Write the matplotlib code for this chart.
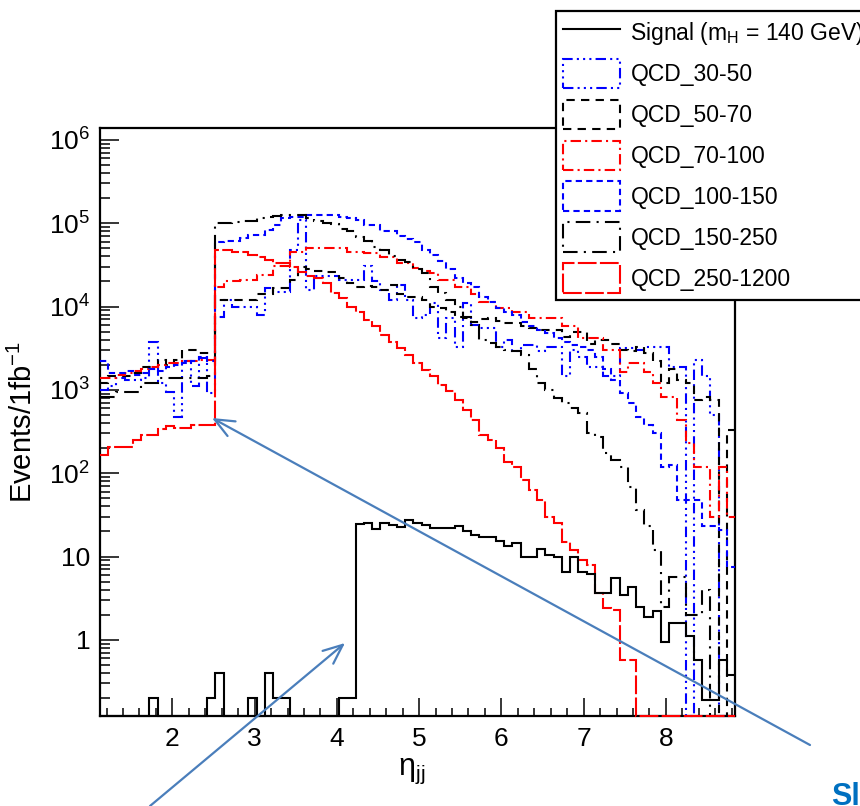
import numpy as np
import matplotlib
matplotlib.use('Agg')
import matplotlib.pyplot as plt
from matplotlib.patches import Patch
from matplotlib.lines import Line2D
from matplotlib.ticker import MultipleLocator, LogLocator, FixedLocator, FixedFormatter, NullFormatter

plt.rcParams['font.family'] = ['Liberation Sans', 'DejaVu Sans']
plt.rcParams['mathtext.fontset'] = 'custom'
plt.rcParams['mathtext.rm'] = 'Liberation Sans'
plt.rcParams['mathtext.it'] = 'Liberation Sans:italic'
plt.rcParams['mathtext.bf'] = 'Liberation Sans:bold'

# eta_jj binning (77 bins)
eta_min, eta_max, n_bins = 1.12, 8.84, 77

# events / 1 fb^-1 per bin (0 = empty bin)
signal = [0, 0, 0, 0, 0, 0, 0.2, 0, 0, 0,
          0, 0, 0, 0.2, 0.4, 0, 0, 0, 0.2, 0,
          0.4, 0.2, 0.2, 0, 0, 0, 0, 0, 0, 0.2,
          0.2, 24.6, 25.6, 21.3, 25.3, 23.8, 22.5, 27.5, 25.6, 24,
          22, 22, 22, 23, 20, 18.2, 17.4, 17.4, 15.5, 13.2,
          14.5, 10, 10, 12.3, 10.5, 10, 6.6, 10, 6.6, 6.2,
          3.7, 3.7, 5.5, 3.5, 4.3, 2.5, 1.9, 2.2, 0.95, 1.6,
          1.6, 1.1, 0.57, 0.19, 0.19, 0.57, 0.38]

qcd_30_50 = [1.0e3, 1.1e3, 1.4e3, 1.3e3, 1.3e3, 1.4e3, 3.8e3, 1.2e3, 950, 470,
             2.2e3, 1.1e3, 2.4e3, 920, 7.5e3, 1.2e4, 1.0e4, 1.0e4, 1.0e4, 8e3,
             1.65e4, 1.5e4, 1.5e4, 4.8e4, 1.1e5, 1.6e4, 2.3e4, 2.3e4, 2.3e4, 2.1e4,
             2.1e4, 2.1e4, 3.1e4, 2.0e4, 1.6e4, 1.2e4, 1.8e4, 1.2e4, 7.3e3, 8e3,
             1.1e4, 4.2e3, 7.3e3, 3.3e3, 1.1e4, 6e3, 5.5e3, 5.5e3, 3.3e3, 4e3,
             2.9e3, 3.5e3, 3.5e3, 2.9e3, 3.3e3, 3.3e3, 1.45e3, 3e3, 2.5e3, 1.9e3,
             1.9e3, 1.45e3, 1.45e3, 3.2e3, 3.2e3, 3.0e3, 3.3e3, 3.3e3, 3.3e3, 1.9e3,
             1.9e3, 0, 2.3e3, 1.45e3, 500, 0, 0]

qcd_50_70 = [1.2e3, 1.45e3, 1.45e3, 1.45e3, 1.6e3, 1.9e3, 1.9e3, 2.3e3, 2.0e3, 2.3e3,
             3.0e3, 3.0e3, 2.8e3, 2.8e3, 1.2e4, 1.2e4, 1.2e4, 1.2e4, 1.2e4, 1.4e4,
             1.4e4, 1.65e4, 1.65e4, 2.1e4, 3.0e4, 2.8e4, 2.7e4, 2.6e4, 2.6e4, 2.2e4,
             1.9e4, 1.7e4, 1.75e4, 1.7e4, 1.6e4, 1.8e4, 1.4e4, 1.3e4, 1.3e4, 1.2e4,
             1.0e4, 9.5e3, 8.6e3, 7.5e3, 7.3e3, 6.6e3, 7.0e3, 7.3e3, 6.8e3, 6.4e3,
             6.4e3, 5.8e3, 5.5e3, 5.3e3, 5.3e3, 5.3e3, 4.3e3, 4.9e3, 4.9e3, 3.6e3,
             4.0e3, 4.0e3, 3.6e3, 3.0e3, 2.9e3, 3.3e3, 2.8e3, 2.2e3, 1.2e3, 1.8e3,
             1.3e3, 1.2e3, 760, 830, 760, 0, 330]

qcd_70_100 = [1.4e3, 1.4e3, 1.5e3, 1.6e3, 1.7e3, 1.8e3, 1.9e3, 2.0e3, 2.1e3, 2.1e3,
              2.2e3, 2.2e3, 2.3e3, 2.3e3, 1.7e4, 2.0e4, 2.0e4, 2.1e4, 2.1e4, 2.4e4,
              2.4e4, 3.1e4, 3.1e4, 4.5e4, 4.5e4, 5.0e4, 5.0e4, 5.0e4, 5.0e4, 5.0e4,
              4.5e4, 4.5e4, 4.4e4, 4.4e4, 3.9e4, 3.9e4, 3.3e4, 3.3e4, 2.9e4, 2.7e4,
              2.5e4, 2.1e4, 2.1e4, 1.7e4, 1.7e4, 1.4e4, 1.15e4, 1.15e4, 9.6e3, 9.6e3,
              8.7e3, 8.7e3, 7.3e3, 7.3e3, 7.3e3, 7.3e3, 5.8e3, 5.8e3, 4.2e3, 4.2e3,
              4.2e3, 3.0e3, 3.0e3, 1.65e3, 2.1e3, 2.1e3, 1.65e3, 1.2e3, 830, 830,
              440, 230, 120, 120, 30, 120, 30]

qcd_100_150 = [2.2e3, 1.6e3, 1.6e3, 1.7e3, 1.5e3, 1.6e3, 1.8e3, 1.7e3, 1.9e3, 2.0e3,
               2.1e3, 2.2e3, 2.5e3, 2.2e3, 5.9e4, 6.1e4, 6.1e4, 6.6e4, 7.3e4, 7.3e4,
               8.3e4, 9.5e4, 1.15e5, 1.2e5, 1.2e5, 1.25e5, 1.25e5, 1.25e5, 1.25e5, 1.2e5,
               1.15e5, 1.1e5, 9.5e4, 9.5e4, 8e4, 8e4, 7e4, 6.5e4, 5.9e4, 4.8e4,
               4.2e4, 3.5e4, 2.8e4, 2.2e4, 1.9e4, 1.7e4, 1.3e4, 1.15e4, 9.6e3, 8.5e3,
               8e3, 6.6e3, 5.8e3, 5.3e3, 4.8e3, 4.2e3, 3.8e3, 3.5e3, 3.3e3, 3.0e3,
               2.5e3, 1.8e3, 1.3e3, 920, 700, 475, 380, 300, 120, 125,
               48, 48, 48, 23, 23, 21, 7.5]

qcd_150_250 = [820, 820, 950, 950, 950, 1.2e3, 1.2e3, 1.4e3, 1.4e3, 1.4e3,
               1.4e3, 1.4e3, 1.4e3, 1.45e3, 1.0e5, 1.0e5, 1.03e5, 1.07e5, 1.07e5, 1.15e5,
               1.2e5, 1.22e5, 1.25e5, 1.25e5, 1.25e5, 1.15e5, 1.05e5, 1.02e5, 9.7e4, 8.5e4,
               8.0e4, 6.8e4, 6.2e4, 5.2e4, 4.8e4, 4.0e4, 3.6e4, 3.4e4, 2.8e4, 2.5e4,
               1.7e4, 1.45e4, 1.2e4, 1.0e4, 7.5e3, 6.0e3, 4.0e3, 3.7e3, 3.3e3, 3.0e3,
               2.9e3, 2.6e3, 1.8e3, 1.2e3, 1.0e3, 800, 700, 610, 530, 300,
               275, 175, 145, 120, 69, 36, 23, 12, 2.5, 5.7,
               5.7, 2.0, 2.0, 4.0, 0, 0, 0]

qcd_250_1200 = [166, 208, 208, 208, 250, 290, 290, 338, 370, 345,
                345, 380, 380, 380, 4.8e4, 4.8e4, 4.5e4, 4.5e4, 4.2e4, 3.9e4,
                3.6e4, 3.3e4, 3.3e4, 3.0e4, 2.6e4, 2.3e4, 2.2e4, 1.9e4, 1.45e4, 1.25e4,
                1.0e4, 8.5e3, 6.9e3, 5.8e3, 4.6e3, 3.8e3, 3.2e3, 2.6e3, 2.1e3, 1.75e3,
                1.45e3, 1.15e3, 960, 760, 580, 440, 290, 250, 200, 137,
                120, 83, 63, 48, 30, 25, 15, 12, 9.1, 8,
                3.7, 2.4, 2.3, 0.57, 0.57, 0, 0, 0, 0, 0,
                0, 0, 0, 0, 0, 0, 0]

labels = ['Signal (m$_{\\mathrm{H}}$ = 140 GeV)', 'QCD_30-50', 'QCD_50-70', 'QCD_70-100',
          'QCD_100-150', 'QCD_150-250', 'QCD_250-1200']
series = [signal, qcd_30_50, qcd_50_70, qcd_70_100, qcd_100_150, qcd_150_250, qcd_250_1200]
colors = ['black', '#0000ff', 'black', '#ff0000', '#0000ff', 'black', '#ff0000']
styles = ['-', (0, (5, 2, 1, 2, 1, 2, 1, 2)), (0, (4, 3)), (0, (5, 2, 1, 2)),
          (0, (3, 2)), (0, (7, 3, 1, 3)), (0, (9, 1.6))]

ytick_vals = [1, 10, 1e2, 1e3, 1e4, 1e5, 1e6]
ytick_text = ['1', '10', '10$^{2}$', '10$^{3}$', '10$^{4}$', '10$^{5}$', '10$^{6}$']

y_lo, y_hi = 0.122, 1.39e6

W, H = 860, 806
fig = plt.figure(figsize=(W / 100, H / 100), dpi=100)
ax = fig.add_axes([100 / W, 1 - 716 / H, 635 / W, 588 / H])

edges = np.linspace(eta_min, eta_max, n_bins + 1)
# draw QCD first, signal on top
order = [1, 2, 3, 4, 5, 6, 0]
for k in order:
    vals = np.array(series[k], dtype=float)
    vals = np.where(vals > 0, vals, y_lo)   # empty bins sit on the frame, like ROOT
    ax.stairs(vals, edges, baseline=None, color=colors[k], linestyle=styles[k],
              linewidth=1.5, zorder=3, clip_on=False)

ax.set_yscale('log')
ax.set_xlim(eta_min, eta_max)
ax.set_ylim(y_lo, y_hi)

ax.xaxis.set_major_locator(MultipleLocator(1))
ax.xaxis.set_minor_locator(MultipleLocator(0.2))
ax.yaxis.set_major_locator(FixedLocator(ytick_vals))
ax.yaxis.set_major_formatter(FixedFormatter(ytick_text))
ax.yaxis.set_minor_locator(LogLocator(base=10, subs=np.arange(2, 10), numticks=30))
ax.yaxis.set_minor_formatter(NullFormatter())

ax.tick_params(which='both', direction='in', top=False, right=False, width=1.1,
               labelsize=19, color='black')
ax.xaxis.set_tick_params(which='major', length=13, pad=8)
ax.xaxis.set_tick_params(which='minor', length=6)
ax.yaxis.set_tick_params(which='major', length=14, pad=7)
ax.yaxis.set_tick_params(which='minor', length=7)
for s in ax.spines.values():
    s.set_linewidth(1.6)

ax.set_ylabel('Events/1fb$^{\\mathrm{-1}}$', fontsize=21)
ax.yaxis.set_label_coords(-0.097, 0.5)
ax.set_xlabel('η$_{\\mathrm{jj}}$', fontsize=22)
ax.xaxis.set_label_coords(0.49, -0.068)

# legend: line for signal, boxes for the QCD samples
handles = [Line2D([], [], color='black', linewidth=1.5)]
for k in range(1, 7):
    handles.append(Patch(facecolor='none', edgecolor=colors[k], linestyle=styles[k],
                         linewidth=1.5))
leg = fig.legend(handles, labels, loc='upper left',
                 bbox_to_anchor=(556 / W, 1 - 11 / H), fontsize=16.5,
                 frameon=True, fancybox=False, framealpha=1, edgecolor='black',
                 handlelength=2.5, handleheight=1.6, handletextpad=0.45,
                 labelspacing=0.5, borderpad=0.3, borderaxespad=0)
leg.get_frame().set_linewidth(1.6)

# blue annotation arrows drawn over the figure
arrow_col = '#4a7ebb'
def fpos(x, y):
    return (x / W, 1 - y / H)

for tail, head in [((810, 745), (212, 418)), ((150, 806), (345, 643))]:
    ax.annotate('', xy=fpos(*head), xycoords='figure fraction',
                xytext=fpos(*tail), textcoords='figure fraction',
                arrowprops=dict(arrowstyle='->,head_length=1.4,head_width=0.6',
                                color=arrow_col, linewidth=1.6, shrinkA=0, shrinkB=0),
                annotation_clip=False, zorder=10)

fig.text(831 / W, 1 - 805 / H, 'Sl', color='#0070c0', fontsize=22,
         fontweight='bold', ha='left', va='baseline')

fig.savefig('out.png', dpi=100)
